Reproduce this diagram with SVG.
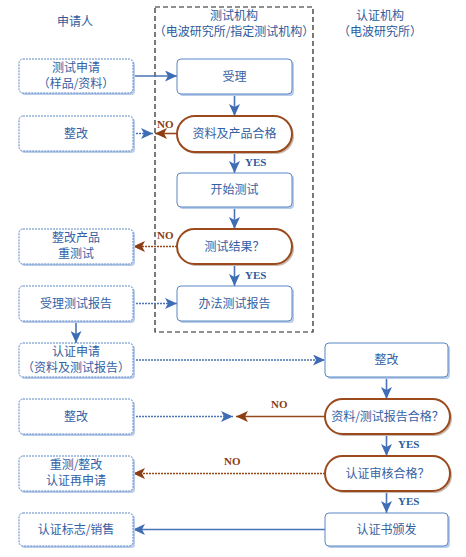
<svg xmlns="http://www.w3.org/2000/svg" width="466" height="557" viewBox="0 0 466 557">
<defs>
<marker id="ab" markerUnits="userSpaceOnUse" markerWidth="12" markerHeight="11" refX="12" refY="5.5" orient="auto">
<path d="M0,0 L12,5.5 L0,11 L3,5.5 z" fill="#3f6db5"/>
</marker>
<marker id="ar" markerUnits="userSpaceOnUse" markerWidth="12" markerHeight="11" refX="12" refY="5.5" orient="auto">
<path d="M0,0 L12,5.5 L0,11 L3,5.5 z" fill="#8e3c12"/>
</marker>
</defs>
<style>
.box{fill:#fff;stroke:#5b86c5;stroke-width:1}
.lbox{fill:#fff;stroke:#5b86c5;stroke-width:1;stroke-dasharray:2 1}
.sh{fill:#b9cdea}
.psh{fill:#c9b8ad}
.pill{fill:#fff;stroke:#9a4a1c;stroke-width:2}
.t{font-family:"Noto Sans CJK SC","Noto Sans",sans-serif;font-size:12px;fill:#3461a3;text-anchor:middle}
.h{font-family:"Noto Sans CJK SC","Noto Sans",sans-serif;font-size:12px;fill:#2d5b9c;text-anchor:middle}
.bl{stroke:#4a74b5;stroke-width:1.6;fill:none}
.bd{stroke:#4a74b5;stroke-width:1.6;fill:none;stroke-dasharray:2 1}
.br{stroke:#96471c;stroke-width:1.6;fill:none}
.brd{stroke:#96471c;stroke-width:1.6;fill:none;stroke-dasharray:2 1}
.yes{font-family:"Liberation Serif",serif;font-size:11px;font-weight:bold;fill:#2d5b9c}
.no{font-family:"Liberation Serif",serif;font-size:11px;font-weight:bold;fill:#8e3c12}
</style>
<rect width="466" height="557" fill="#fff"/>

<g id="boundary">
<rect x="155" y="7" width="158" height="325" fill="none" stroke="#222" stroke-width="1.2" stroke-dasharray="5 3"/>
</g>

<g id="headers">
<text class="h" x="75" y="26">申请人</text>
<text class="h" x="234" y="20">测试机构<tspan x="234" dy="16">（电波研究所/指定测试机构）</tspan></text>
<text class="h" x="380" y="20">认证机构<tspan x="380" dy="16">（电波研究所）</tspan></text>
</g>

<g id="connectors">
<line class="bl" x1="133" y1="76" x2="177" y2="76" marker-end="url(#ab)"/>
<line class="bl" x1="234.5" y1="94" x2="234.5" y2="116" marker-end="url(#ab)"/>
<line class="br" x1="177" y1="133.5" x2="155" y2="133.5" marker-end="url(#ar)"/>
<line class="bd" x1="133" y1="133.5" x2="153" y2="133.5" marker-end="url(#ab)"/>
<line class="bl" x1="234.5" y1="152" x2="234.5" y2="173" marker-end="url(#ab)"/>
<line class="bl" x1="234.5" y1="207" x2="234.5" y2="229" marker-end="url(#ab)"/>
<line class="brd" x1="177" y1="246.5" x2="133" y2="246.5" marker-end="url(#ar)"/>
<line class="bl" x1="234.5" y1="264" x2="234.5" y2="286" marker-end="url(#ab)"/>
<line class="bd" x1="133" y1="303.5" x2="177" y2="303.5" marker-end="url(#ab)"/>
<line class="bl" x1="76" y1="321" x2="76" y2="343" marker-end="url(#ab)"/>
<line class="bd" x1="133" y1="360" x2="325" y2="360" marker-end="url(#ab)"/>
<line class="bl" x1="386.5" y1="377" x2="386.5" y2="399" marker-end="url(#ab)"/>
<line class="br" x1="325" y1="416.5" x2="236" y2="416.5" marker-end="url(#ar)"/>
<line class="bd" x1="133" y1="416.5" x2="233" y2="416.5" marker-end="url(#ab)"/>
<line class="bl" x1="386.5" y1="434" x2="386.5" y2="456" marker-end="url(#ab)"/>
<line class="brd" x1="325" y1="473.5" x2="133" y2="473.5" marker-end="url(#ar)"/>
<line class="bl" x1="386.5" y1="491" x2="386.5" y2="513" marker-end="url(#ab)"/>
<line class="bl" x1="325" y1="529.5" x2="133" y2="529.5" marker-end="url(#ab)"/>
<text class="no" x="157" y="128">NO</text>
<text class="yes" x="245" y="166">YES</text>
<text class="no" x="157" y="239">NO</text>
<text class="yes" x="245" y="279">YES</text>
<text class="no" x="271" y="408">NO</text>
<text class="yes" x="398" y="448">YES</text>
<text class="no" x="224" y="465">NO</text>
<text class="yes" x="398" y="505">YES</text>
</g>

<g id="n_apply">
<rect class="sh" x="21" y="61" width="114" height="34" rx="4"/>
<rect class="lbox" x="19" y="59" width="114" height="34" rx="4"/>
<text class="t" x="76" y="72">测试申请<tspan x="76" dy="16">（样品/资料）</tspan></text>
</g>
<g id="n_fix1">
<rect class="sh" x="21" y="118" width="114" height="35" rx="4"/>
<rect class="lbox" x="19" y="116" width="114" height="35" rx="4"/>
<text class="t" x="76" y="138">整改</text>
</g>
<g id="n_fixretest">
<rect class="sh" x="21" y="231" width="114" height="35" rx="4"/>
<rect class="lbox" x="19" y="229" width="114" height="35" rx="4"/>
<text class="t" x="76" y="242">整改产品<tspan x="76" dy="16">重测试</tspan></text>
</g>
<g id="n_recv_report">
<rect class="sh" x="21" y="288" width="114" height="35" rx="4"/>
<rect class="lbox" x="19" y="286" width="114" height="35" rx="4"/>
<text class="t" x="76" y="308">受理测试报告</text>
</g>
<g id="n_cert_apply">
<rect class="sh" x="21" y="345" width="114" height="34" rx="4"/>
<rect class="lbox" x="19" y="343" width="114" height="34" rx="4"/>
<text class="t" x="76" y="356">认证申请<tspan x="76" dy="16">（资料及测试报告）</tspan></text>
</g>
<g id="n_fix2">
<rect class="sh" x="21" y="401" width="114" height="35" rx="4"/>
<rect class="lbox" x="19" y="399" width="114" height="35" rx="4"/>
<text class="t" x="76" y="421">整改</text>
</g>
<g id="n_reapply">
<rect class="sh" x="21" y="458" width="114" height="35" rx="4"/>
<rect class="lbox" x="19" y="456" width="114" height="35" rx="4"/>
<text class="t" x="76" y="469">重测/整改<tspan x="76" dy="16">认证再申请</tspan></text>
</g>
<g id="n_mark">
<rect class="sh" x="21" y="515" width="114" height="33" rx="4"/>
<rect class="lbox" x="19" y="513" width="114" height="33" rx="4"/>
<text class="t" x="76" y="534">认证标志/销售</text>
</g>

<g id="n_accept">
<rect class="sh" x="179" y="61" width="115" height="35" rx="4"/>
<rect class="box" x="177" y="59" width="115" height="35" rx="4"/>
<text class="t" x="234.5" y="81">受理</text>
</g>
<g id="n_check1">
<rect class="psh" x="179" y="118" width="115" height="36" rx="18"/>
<rect class="pill" x="177" y="116" width="115" height="36" rx="18"/>
<text class="t" x="234.5" y="138">资料及产品合格</text>
</g>
<g id="n_start">
<rect class="sh" x="179" y="175" width="115" height="34" rx="4"/>
<rect class="box" x="177" y="173" width="115" height="34" rx="4"/>
<text class="t" x="234.5" y="194">开始测试</text>
</g>
<g id="n_result">
<rect class="psh" x="179" y="231" width="115" height="35" rx="17.5"/>
<rect class="pill" x="177" y="229" width="115" height="35" rx="17.5"/>
<text class="t" x="234.5" y="251">测试结果？</text>
</g>
<g id="n_report">
<rect class="sh" x="179" y="288" width="115" height="35" rx="4"/>
<rect class="box" x="177" y="286" width="115" height="35" rx="4"/>
<text class="t" x="234.5" y="308">办法测试报告</text>
</g>

<g id="n_fix3">
<rect class="sh" x="327" y="345" width="123" height="34" rx="4"/>
<rect class="box" x="325" y="343" width="123" height="34" rx="4"/>
<text class="t" x="386.5" y="364">整改</text>
</g>
<g id="n_check2">
<rect class="psh" x="327" y="401" width="125" height="35" rx="17.5"/>
<rect class="pill" x="325" y="399" width="125" height="35" rx="17.5"/>
<text class="t" x="387.5" y="421">资料/测试报告合格？</text>
</g>
<g id="n_check3">
<rect class="psh" x="327" y="458" width="125" height="35" rx="17.5"/>
<rect class="pill" x="325" y="456" width="125" height="35" rx="17.5"/>
<text class="t" x="387.5" y="478">认证审核合格？</text>
</g>
<g id="n_issue">
<rect class="sh" x="327" y="515" width="123" height="33" rx="4"/>
<rect class="box" x="325" y="513" width="123" height="33" rx="4"/>
<text class="t" x="386.5" y="534">认证书颁发</text>
</g>
</svg>
